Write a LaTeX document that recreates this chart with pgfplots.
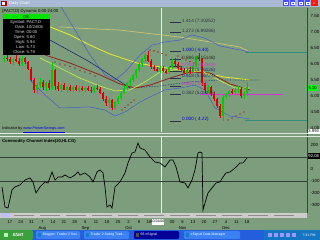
\documentclass[border=0pt]{standalone}
\usepackage{fontspec}
\setmainfont{Liberation Sans}
\usepackage{pgfplots}
\pgfplotsset{compat=1.18}
\usepackage{pgfplotstable}
\definecolor{bg}{RGB}{125,158,125}
\definecolor{cgreen}{RGB}{0,205,0}
\definecolor{cred}{RGB}{220,0,0}
\definecolor{navy}{RGB}{30,40,120}
\definecolor{bband}{RGB}{70,90,210}
\definecolor{khaki}{RGB}{205,195,115}
\definecolor{yell}{RGB}{235,235,40}
\definecolor{lgreen}{RGB}{195,245,60}
\definecolor{maroon2}{RGB}{150,30,30}
\definecolor{pinkl}{RGB}{205,90,205}
\definecolor{xpblue}{RGB}{36,94,220}
\definecolor{xpbtn}{RGB}{60,129,243}
\definecolor{xpgreen}{RGB}{60,160,60}
\definecolor{titlebar}{RGB}{170,186,214}
\definecolor{fibc}{RGB}{45,50,75}
\definecolor{magl}{RGB}{215,50,215}
\newcommand\fs{\fontsize{4.5}{5}\selectfont}
\newcommand\fss{\fontsize{4.2}{4.8}\selectfont}
\newcommand\fst{\fontsize{3.5}{4}\selectfont}
\newcommand\ffib{\fontsize{4.7}{5}\selectfont}

\pgfplotstableread{
x o h l c
4 6.15 6.25 6.05 6.20
13 6.05 6.20 5.98 6.15
22 6.00 6.25 5.95 6.18
37 5.18 5.40 5.05 5.35
40 5.35 5.55 5.25 5.45
46 5.28 5.45 5.15 5.40
52 5.25 6.05 5.20 5.80
61 5.22 5.38 5.12 5.33
67 5.20 5.32 5.10 5.28
73 5.18 5.30 5.12 5.27
79 5.20 5.30 5.12 5.25
85 5.18 5.28 5.12 5.24
94 5.15 5.30 5.10 5.26
109 4.78 4.95 4.62 4.88
115 4.62 4.85 4.58 4.80
118 4.80 5.00 4.75 4.95
121 4.95 5.15 4.88 5.10
124 5.10 5.30 5.05 5.25
127 5.25 5.45 5.20 5.40
130 5.40 5.55 5.30 5.50
133 5.50 5.70 5.45 5.65
136 5.65 5.85 5.55 5.80
139 5.80 6.05 5.75 6.00
142 6.00 6.20 5.90 6.15
145 6.15 6.35 6.05 6.28
160 5.80 5.95 5.72 5.88
169 5.75 5.95 5.70 5.90
172 5.90 6.15 5.85 6.10
187 5.72 5.85 5.65 5.80
193 5.75 6.00 5.72 5.95
196 5.95 6.25 5.90 6.20
208 5.20 5.35 5.10 5.28
223 4.38 5.05 4.22 4.98
226 4.98 5.10 4.90 5.05
229 5.05 5.18 4.98 5.15
235 5.12 5.25 5.05 5.20
238 5.20 5.30 5.10 5.22
244 5.00 5.12 4.92 5.08
247 5.08 5.45 5.00 5.29
}\up
\pgfplotstableread{
x o h l c
7 6.20 6.30 6.10 6.15
10 6.15 6.22 6.00 6.05
16 6.15 6.28 6.05 6.10
19 6.10 6.18 5.95 6.00
25 6.18 6.22 6.00 6.05
28 6.05 6.10 5.80 5.85
31 5.85 5.90 5.45 5.50
34 5.50 5.55 5.10 5.18
43 5.45 5.50 5.20 5.28
49 5.40 5.50 5.20 5.25
55 5.80 5.85 5.20 5.30
58 5.30 5.45 5.15 5.22
64 5.33 5.40 5.18 5.20
70 5.28 5.35 5.15 5.18
76 5.27 5.33 5.15 5.20
82 5.25 5.32 5.15 5.18
88 5.24 5.30 5.15 5.20
91 5.20 5.28 5.10 5.15
97 5.26 5.35 5.18 5.22
100 5.22 5.28 5.05 5.08
103 5.08 5.12 4.85 4.90
106 4.90 5.00 4.70 4.78
112 4.88 4.92 4.55 4.62
148 6.28 6.40 6.05 6.10
151 6.10 6.15 5.85 5.90
154 5.90 5.98 5.78 5.85
157 5.85 5.92 5.75 5.80
163 5.88 5.95 5.75 5.78
166 5.78 5.85 5.68 5.75
175 6.10 6.18 5.95 6.00
178 6.00 6.05 5.82 5.88
181 5.88 5.95 5.75 5.80
184 5.80 5.88 5.68 5.72
190 5.80 5.90 5.70 5.75
199 6.20 6.35 6.10 6.15
202 6.15 6.18 5.30 5.40
205 5.40 5.45 5.10 5.20
211 5.28 5.32 5.00 5.05
214 5.05 5.12 4.85 4.90
217 4.90 4.95 4.62 4.70
220 4.70 4.75 4.30 4.38
232 5.15 5.22 5.05 5.12
241 5.22 5.28 4.95 5.00
}\down

\pgfplotsset{panel/.style={scale only axis, width=307bp, xmin=0, xmax=307,
  axis line style={draw=none}, major tick length=0pt, xtick=\empty,
  yticklabel pos=right, ticklabel style={font=\fs, black},
  /pgf/number format/assume math mode=true, anchor=south west}}

\begin{document}
\begin{tikzpicture}[x=1bp,y=1bp]
\fill[bg] (0,0) rectangle (320,240);
\useasboundingbox (0,0) rectangle (320,240);

% price panel
\begin{axis}[panel, at={(0bp,108bp)}, height=124bp, ymin=3.875, ymax=7.75,
  ytick={4,4.5,5,5.5,6,6.5,7,7.5},
  yticklabel style={/pgf/number format/.cd, fixed, fixed zerofill, precision=2}]
\addplot[white!85!bg, line width=0.5bp, forget plot] coordinates {(161,3.875)(161,7.75)};
\addplot[teal!60!bg, line width=0.4bp] coordinates {(245,6.375)(307,6.375)};
\addplot[teal!60!bg, line width=0.4bp] coordinates {(245,4.25)(307,4.25)};
% khaki MA
\addplot[khaki, line width=0.7bp] coordinates {(60,7.16)(75,7.125)(120,7.06)(180,6.84)(210,6.69)(240,6.53)(250,6.375)};
% yellow MA
\addplot[yell, line width=0.8bp] coordinates {(35,7.55)(50,7.16)(70,6.91)(90,6.59)(110,6.31)(137,6.03)(160,5.91)(180,5.81)(200,5.75)(225,5.59)(250,5.5)};
% navy
\addplot[navy, line width=0.6bp] coordinates {(30,7.2)(40,6.91)(50,6.75)(90,6.06)(130,5.25)};
\addplot[navy, line width=0.6bp, densely dotted] coordinates {(130,5.25)(160,5.31)(190,5.44)(220,5.5)(260,5.5)};
% red MA
\addplot[maroon2, line width=0.8bp] coordinates {(45,6.28)(70,6.03)(100,5.66)(120,5.375)(135,5.25)(150,5.34)(170,5.56)(190,5.75)(210,5.72)(230,5.375)(250,5.19)};
% light green MA
\addplot[lgreen, line width=0.6bp] coordinates {(40,6.19)(60,5.875)(80,5.56)(100,5.31)(115,5.16)(130,5.19)(145,5.44)(160,5.75)(180,5.84)(200,5.81)(215,5.56)(235,5.25)(250,5.25)};
% bollinger bands
\addplot[bband, line width=0.5bp] coordinates {(60,7.84)(75,7.06)(90,6.28)(105,5.66)(115,5.5)(125,5.75)(140,6.28)(152,6.59)(165,6.69)(180,6.75)(192,6.91)(205,6.81)(220,6.56)(240,6.44)(250,6.375)};
\addplot[bband, line width=0.5bp] coordinates {(30,5.5)(45,5.03)(60,4.625)(90,4.66)(105,4.56)(115,4.375)(125,4.5)(140,4.81)(150,4.97)(165,5.19)(180,5.25)(195,5.34)(205,5.19)(215,4.625)(230,4.375)(250,4.28)};
% pink
\addplot[pinkl, line width=0.4bp] coordinates {(25,6.19)(33,5.5)(37,5.09)(45,5.0)};
\addplot[pinkl, line width=0.4bp] coordinates {(98,5.1)(104,4.85)(108,4.69)(112,4.56)(118,4.7)};
% SAR dots
\addplot[only marks, mark=*, mark size=0.35bp, cred!80!black] coordinates {(55,6.06)(60,6.0)(65,5.97)(70,5.92)(75,5.875)(80,5.8)(85,5.75)(90,5.7)(95,5.625)
 (122,4.56)(125,4.64)(128,4.72)(131,4.8)(134,4.875)
 (150,6.44)(154,6.41)(158,6.375)(162,6.33)(166,6.28)
 (178,6.25)(182,6.19)(186,6.125)(190,6.08)(194,6.03)
 (228,4.25)(232,4.31)(236,4.375)(240,4.44)(244,4.5)};
% fib lines
\addplot[magl, line width=0.8bp] coordinates {(200,5.05276)(283,5.05276)};
\addplot[fibc, line width=0.5bp] coordinates {(170,7.30252)(181,7.30252)};
\addplot[fibc, line width=0.5bp] coordinates {(170,6.99296)(181,6.99296)};
\addplot[fibc, line width=0.5bp] coordinates {(170,6.40)(181,6.40)};
\addplot[fibc, line width=0.5bp] coordinates {(170,6.15148)(181,6.15148)};
\addplot[fibc, line width=0.5bp] coordinates {(170,5.93348)(181,5.93348)};
\addplot[fibc, line width=0.5bp] coordinates {(170,5.76126)(181,5.76126)};
\addplot[fibc, line width=0.5bp] coordinates {(170,5.56724)(181,5.56724)};
\addplot[fibc, line width=0.5bp] coordinates {(170,5.31)(181,5.31)};
\addplot[fibc, line width=0.5bp] coordinates {(170,5.05276)(181,5.05276)};
\addplot[fibc, line width=0.5bp] coordinates {(170,4.22)(181,4.22)};
% candles
\addplot[cgreen, draw=none, mark=none, forget plot, error bars/.cd, y dir=both, y explicit, error mark=none, error bar style={line width=0.45bp, draw=cgreen}]
  table[x=x, y expr={(\thisrow{h}+\thisrow{l})/2}, y error expr={(\thisrow{h}-\thisrow{l})/2}] {\up};
\addplot[cred, draw=none, mark=none, forget plot, error bars/.cd, y dir=both, y explicit, error mark=none, error bar style={line width=0.45bp, draw=cred}]
  table[x=x, y expr={(\thisrow{h}+\thisrow{l})/2}, y error expr={(\thisrow{h}-\thisrow{l})/2}] {\down};
\addplot[cgreen, draw=none, mark=none, forget plot, error bars/.cd, y dir=both, y explicit, error mark=none, error bar style={line width=1.6bp, draw=cgreen}]
  table[x=x, y expr={(\thisrow{o}+\thisrow{c})/2}, y error expr={(\thisrow{c}-\thisrow{o})/2}] {\up};
\addplot[cred, draw=none, mark=none, forget plot, error bars/.cd, y dir=both, y explicit, error mark=none, error bar style={line width=1.6bp, draw=cred}]
  table[x=x, y expr={(\thisrow{o}+\thisrow{c})/2}, y error expr={(\thisrow{o}-\thisrow{c})/2}] {\down};
% fib labels
\begin{scope}[every node/.style={anchor=west, font=\ffib, inner sep=0pt, yshift=1.3bp}]
\node[fibc] at (axis cs:182,7.30252) {1.414 (7.30252)};
\node[fibc] at (axis cs:182,6.99296) {1.272 (6.99296)};
\node[blue!85!black] at (axis cs:182,6.40) {1.000 ( 6.40)};
\node[black!85] at (axis cs:182,6.15148) {0.886 (6.15148)};
\node[magl] at (axis cs:182,5.93348) {0.786 (5.93348)};
\node[navy] at (axis cs:182,5.76126) {0.707 (5.76126)};
\node[navy] at (axis cs:182,5.56724) {0.618 (5.56724)};
\node[magl] at (axis cs:182,5.31) {0.500 ( 5.31)};
\node[fibc] at (axis cs:182,5.05276) {0.382 (5.05276)};
\node[blue!85!black] at (axis cs:182,4.22) {0.000 ( 4.22)};
\end{scope}
\end{axis}

% CCI panel
\begin{axis}[panel, at={(0bp,27bp)}, height=77bp, ymin=-367, ymax=275,
  ytick={-300,-200,-100,0,200},
  xtick={10,20.8,31.5,42.3,53,63.9,74.6,85.4,96,107,118,128.6,139,149,172,182.6,193,204,215,226,236.5,247},
  xticklabels={17,24,31,{7\\Aug},14,21,28,{5\\Sep},11,18,25,{2\\Oct},9,16,30,{6\\Nov},13,20,27,{4\\Dec},11,18},
  xticklabel style={font=\fontsize{4.2}{5.8}\selectfont, black, align=center, anchor=north, yshift=-4.4bp}]
\addplot[white!85!bg, line width=0.5bp] coordinates {(161,-367)(161,275)};
\addplot[black!60!bg, line width=0.7bp] coordinates {(0,100)(307,100)};
\addplot[black!60!bg, line width=0.7bp] coordinates {(0,-100)(307,-100)};
\addplot[black, line width=0.7bp] coordinates {
(2,-150)(5,-317)(8,-325)(12,-175)(15,-150)(20,-133)(25,-92)(30,-75)(33,-108)(36,-200)
(40,-150)(45,-108)(48,-117)(52,-25)(55,-92)(58,-67)(62,-67)(65,-50)(70,-75)(75,-50)
(78,-25)(80,-50)(85,-33)(90,-67)(93,-108)(97,-25)(100,-8)(103,-33)(105,-150)(107,-317)
(110,-300)(112,-325)(115,-150)(120,-108)(125,-33)(128,50)(132,133)(135,142)(138,217)(140,175)
(145,158)(150,100)(155,58)(160,50)(165,17)(170,75)(173,75)(176,17)(180,-108)(185,-117)
(188,-158)(192,-92)(195,-8)(198,133)(200,142)(202,133)(203,-342)(205,-283)(208,-200)(212,-158)
(216,-117)(220,-108)(223,-67)(226,-33)(230,-25)(235,8)(240,50)(243,50)(247,92)};
\end{axis}

% frame and separators
\draw[black!55!bg, line width=0.5bp] (307,27) -- (307,232);
\draw[white!75!bg, line width=0.7bp] (0,107) -- (320,107);
\draw[white!75!bg, line width=0.7bp] (0,103.5) -- (320,103.5);

% title bar
\fill[titlebar] (0,233) rectangle (320,240);
\fill[red!70!black] (1.5,234) rectangle (6.5,239);
\fill[white] (2.5,235) rectangle (5.5,238);
\node[anchor=west, white, font=\fss, inner sep=0pt] at (9,236.5) {Daily Chart};
\foreach \xx in {283,289.5,298,304.5} {\fill[blue!70!white] (\xx,234) rectangle (\xx+5.5,239.5); \draw[white, line width=0.3bp] (\xx+1.3,235.5) rectangle (\xx+4.2,238);}
\fill[red!80!orange] (311,234) rectangle (317.5,239.5);
\node[white, font=\fst, inner sep=0pt] at (314.25,236.75) {x};

\node[anchor=west, black, font=\fss, inner sep=0pt] at (2,229) {(PACT,D) Dynamic 0:00-24:00};

% info box
\fill[black] (3,185) rectangle (50,226);
\fill[green!90!black] (3.5,221) rectangle (49.5,225.5);
\node[black, font=\fss, inner sep=0pt] at (26.5,223.2) {OK};
\begin{scope}[every node/.style={font=\fss, inner sep=0pt, white!85!black}]
\node[anchor=east] at (25.5,218) {Symbol:}; \node[anchor=west] at (26.5,218) {PACT,D};
\node[anchor=east] at (25.5,213) {Date:}; \node[anchor=west] at (26.5,213) {10/24/06};
\node[anchor=east] at (25.5,208) {Time:}; \node[anchor=west] at (26.5,208) {00:00};
\node[anchor=east] at (25.5,203) {Open:}; \node[anchor=west] at (26.5,203) {5.80};
\node[anchor=east] at (25.5,198) {High:}; \node[anchor=west] at (26.5,198) {5.94};
\node[anchor=east] at (25.5,193) {Low:}; \node[anchor=west] at (26.5,193) {5.73};
\node[anchor=east] at (25.5,188) {Close:}; \node[anchor=west] at (26.5,188) {5.78};
\end{scope}

% texts between panels
\node[anchor=west, font=\fontsize{3.9}{4.5}\selectfont, inner sep=0pt] at (2,110.3) {Indicator by \textcolor{blue!90!black}{\underline{www.PowerSwings.com}}};
\node[anchor=west, font=\fss\bfseries, inner sep=0pt] at (2,99) {Commodity Channel Index(20,HLC/3)};

% right value boxes
\fill[green] (307.5,149) rectangle (318,155);
\node[black, font=\fss, inner sep=0pt] at (312.7,152) {5.30};
\fill[white] (307.5,106.3) rectangle (320,111.3);
\node[black, font=\fss, inner sep=0pt] at (313.7,108.8) {3.993};
\fill[black] (307.5,81) rectangle (320,87);
\node[white, font=\fss, inner sep=0pt] at (313.7,84) {92.08};

% scrollbar
\fill[white!80!black] (0,22) rectangle (307,27);
\fill[blue!25!white] (1,22.5) rectangle (10,26.5);
\foreach \sx in {14,40,66,92,118,144,170,196,222,248,274} {\draw[black!45, line width=0.4bp] (\sx,24.5) -- (\sx+20,24.5);}
% date box
\fill[white] (151.5,15.5) rectangle (163.5,21.3);
\node[black, font=\fst, inner sep=0pt] at (157.5,18.4) {10/24/06};

% taskbar
\fill[xpblue] (0,0) rectangle (320,10);
\fill[xpgreen, rounded corners=2bp] (-3,0) rectangle (33,10);
\node[white, font=\fontsize{5}{6}\selectfont\bfseries\itshape, inner sep=0pt] at (18,5) {start};
\fill[white!70!green] (4,3) rectangle (8,7);
\fill[xpbtn, rounded corners=1bp] (36,1.2) rectangle (80,8.8);
\fill[cyan!60!blue] (38,3) rectangle (41,7);
\node[anchor=west, white, font=\fst, inner sep=0pt] at (42.5,5) {Blogger: Trader 2 Swi...};
\fill[xpbtn, rounded corners=1bp] (84,1.2) rectangle (129,8.8);
\fill[cyan!60!blue] (86,3) rectangle (89,7);
\node[anchor=west, white, font=\fst, inner sep=0pt] at (90.5,5) {Trader 2 Swing Trad...};
\fill[blue!60!black, rounded corners=1bp] (134,1.2) rectangle (179,8.8);
\fill[black!70] (136,3) rectangle (139,7);
\node[anchor=west, white, font=\fst, inner sep=0pt] at (140.5,5) {66 eSignal};
\fill[xpbtn, rounded corners=1bp] (184,1.2) rectangle (240,8.8);
\fill[cyan!60!blue] (186,3) rectangle (189,7);
\node[anchor=west, white, font=\fst, inner sep=0pt] at (190.5,5) {eSignal Data Manager};
\fill[cyan!55!blue] (264,0) rectangle (320,10);
\foreach \ix in {268,274,280,286,292} {\fill[white!60!blue] (\ix,3) rectangle (\ix+4,7);}
\node[white, font=\fst, inner sep=0pt] at (309,5) {7:31 PM};
\end{tikzpicture}
\end{document}
